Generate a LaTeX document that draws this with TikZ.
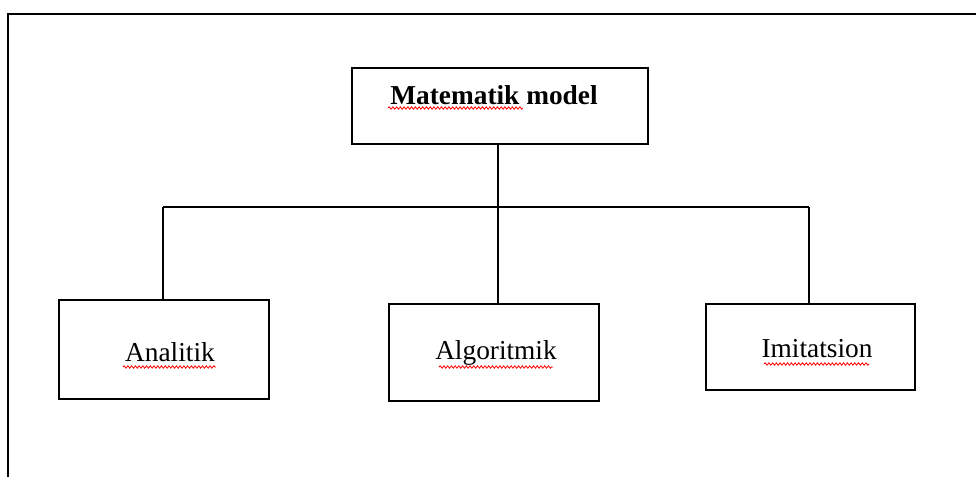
\documentclass[tikz,border=0pt]{standalone}
\usepackage{fontspec}
\setmainfont{Liberation Serif}
\usetikzlibrary{decorations.pathmorphing}
\begin{document}
\begin{tikzpicture}[x=0.75pt,y=-0.75pt,
  line/.style={line width=1.7pt,black},
  box/.style={draw,line width=1.7pt,inner sep=0pt,anchor=north west},
  lbl/.style={anchor=base,inner sep=0pt,font=\fontsize{20.5}{24}\selectfont},
  squig/.style={red,line width=0.6pt,decorate,decoration={snake,amplitude=0.9pt,segment length=2.8pt}}]
\useasboundingbox (0,0) rectangle (976,477);
% outer frame (top and left edges)
\draw[line,line cap=rect] (976,14) -- (8,14) -- (8,477);
% boxes
\node[box,minimum width=296*0.75pt,minimum height=76*0.75pt] (top) at (351,67) {};
\node[box,minimum width=210*0.75pt,minimum height=99*0.75pt] (ana) at (58,299) {};
\node[box,minimum width=210*0.75pt,minimum height=97*0.75pt] (alg) at (388,303) {};
\node[box,minimum width=209*0.75pt,minimum height=86*0.75pt] (imi) at (705,303) {};
% labels
\node[lbl,font=\fontsize{20.5}{24}\selectfont\bfseries] (ttop) at (494,105) {Matematik model};
\node[lbl] (tana) at (170,362) {Analitik};
\node[lbl] (talg) at (496,360) {Algoritmik};
\node[lbl] (timi) at (817,358) {Imitatsion};
% spelling marks
\draw[squig] (388,108) -- (523,108);
\draw[squig] (123,367) -- (216,367);
\draw[squig] (439,367) -- (553,367);
\draw[squig] (764,364) -- (869,364);
% connectors
\coordinate (bl) at (163,207);
\coordinate (br) at (809,207);
\draw[line] (top.south -| 498,0) -- (alg.north -| 498,0);
\draw[line] (bl) -- (br);
\draw[line] (bl) -- (bl |- ana.north);
\draw[line] (br) -- (br |- imi.north);
\end{tikzpicture}
\end{document}
